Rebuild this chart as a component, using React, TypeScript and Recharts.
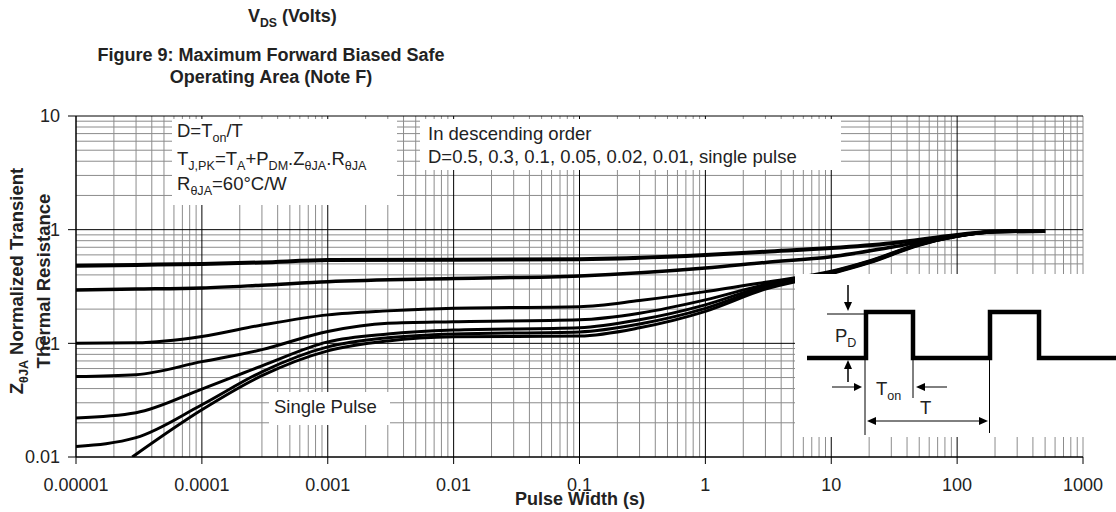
import { LineChart, Line, XAxis, YAxis, CartesianGrid } from "recharts"

// axis ticks (decades) and their printed labels
const xTicks = [1e-5, 1e-4, 1e-3, 1e-2, 1e-1, 1, 10, 100, 1000]
const xTickLabels = ["0.00001", "0.0001", "0.001", "0.01", "0.1", "1", "10", "100", "1000"]
const yTicks = [0.01, 0.1, 1, 10]
const yTickLabels = ["0.01", "0.1", "1", "10"]
const minorSteps = [2, 3, 4, 5, 6, 7, 8, 9]

// pulse width (s) and normalized Z for each duty cycle
const tD05 = [1e-5, 3e-5, 1e-4, 3e-4, 1e-3, 1e-2, 0.1, 1, 3, 10, 30, 100, 200, 500]
const zD05 = [0.482, 0.49, 0.499, 0.515, 0.54, 0.545, 0.55, 0.598, 0.64, 0.689, 0.76, 0.898, 0.965, 0.975]

const tD03 = [1e-5, 3e-5, 1e-4, 3e-4, 1e-3, 1e-2, 0.1, 1, 3, 10, 30, 100, 200, 500]
const zD03 = [0.295, 0.3, 0.307, 0.325, 0.349, 0.372, 0.392, 0.46, 0.515, 0.578, 0.7, 0.89, 0.96, 0.97]

const tLow = [1e-5, 3e-5, 1e-4, 3e-4, 1e-3, 3e-3, 1e-2, 0.1, 0.3, 1, 3, 10, 20, 50, 100, 200, 500]
const zD01 = [0.1, 0.101, 0.115, 0.145, 0.178, 0.193, 0.204, 0.21, 0.238, 0.285, 0.345, 0.43, 0.53, 0.75, 0.88, 0.965, 0.97]
const zD005 = [0.0511, 0.053, 0.069, 0.088, 0.127, 0.15, 0.155, 0.161, 0.184, 0.241, 0.33, 0.425, 0.525, 0.745, 0.878, 0.963, 0.97]
const zD002 = [0.022, 0.0245, 0.0396, 0.0634, 0.103, 0.121, 0.131, 0.137, 0.161, 0.218, 0.32, 0.42, 0.52, 0.74, 0.876, 0.962, 0.97]
const zD001 = [0.0124, 0.0148, 0.0288, 0.0562, 0.093, 0.112, 0.121, 0.126, 0.148, 0.203, 0.31, 0.415, 0.515, 0.735, 0.875, 0.96, 0.97]

const tSingle = [2.8e-5, 1e-4, 3e-4, 1e-3, 3e-3, 1e-2, 0.1, 0.3, 1, 3, 10, 20, 50, 100, 200, 500]
const zSingle = [0.01, 0.026, 0.0519, 0.0859, 0.105, 0.114, 0.116, 0.137, 0.191, 0.3, 0.41, 0.51, 0.73, 0.873, 0.958, 0.97]

const pts = (t: number[], z: number[]) => t.map((x, i) => ({ t: x, z: z[i] }))

const series = [
	{ name: "D=0.5", data: pts(tD05, zD05), w: 4 },
	{ name: "D=0.3", data: pts(tD03, zD03), w: 3.5 },
	{ name: "D=0.1", data: pts(tLow, zD01), w: 3 },
	{ name: "D=0.05", data: pts(tLow, zD005), w: 3 },
	{ name: "D=0.02", data: pts(tLow, zD002), w: 3 },
	{ name: "D=0.01", data: pts(tLow, zD001), w: 3 },
	{ name: "single pulse", data: pts(tSingle, zSingle), w: 3 },
]

const xMinor = [
	...xTicks.slice(0, -1).flatMap((d) => minorSteps.map((m) => m * d)),
	1000,
]
const yMinor = yTicks.slice(0, -1).flatMap((d) => minorSteps.map((m) => m * d))
const xMajor = xTicks.slice(0, -1)

const labelOf = (ticks: number[], labels: string[]) => (v: number) => {
	const i = ticks.findIndex((t) => Math.abs(Math.log10(t) - Math.log10(v)) < 1e-6)
	return i >= 0 ? labels[i] : ""
}

const INK = "#222"

// text with "_"-prefixed parts drawn as subscripts
const Rich = ({
	x = 0,
	y = 0,
	parts,
	size = 18.5,
	bold = false,
	anchor = "start",
	transform,
}: {
	x?: number
	y?: number
	parts: string[]
	size?: number
	bold?: boolean
	anchor?: string
	transform?: string
}) => {
	let down = false
	const shift = size * 0.25
	return (
		<text
			x={x}
			y={y}
			fontSize={size}
			fontWeight={bold ? "bold" : "normal"}
			textAnchor={anchor}
			transform={transform}
			fill={INK}
			style={{ whiteSpace: "pre" }}
		>
			{parts.map((p, i) => {
				const sub = p.startsWith("_")
				let dy = 0
				if (sub && !down) {
					dy = shift
					down = true
				} else if (!sub && down) {
					dy = -shift
					down = false
				}
				return (
					<tspan key={i} dy={dy} fontSize={sub ? size * 0.68 : size}>
						{sub ? p.slice(1) : p}
					</tspan>
				)
			})}
		</text>
	)
}

const Inset = () => (
	<g>
		<rect x={795} y={274} width={321} height={163} fill="#fff" />
		<polyline
			points="807,358 866,358 866,312 913,312 913,358 990,358 990,312 1039,312 1039,358 1116,358"
			fill="none"
			stroke="#000"
			strokeWidth={4.5}
		/>
		<line x1={827} y1={314} x2={866} y2={314} stroke="#000" strokeWidth={1} />
		<line x1={848} y1={285} x2={848} y2={303} stroke="#000" strokeWidth={1.5} />
		<polygon points="844,302 852,302 848,311" fill="#000" />
		<line x1={848} y1={368} x2={848} y2={382} stroke="#000" strokeWidth={1.5} />
		<polygon points="844,369 852,369 848,360" fill="#000" />
		<line x1={865} y1={358} x2={865} y2={435} stroke="#000" strokeWidth={1} />
		<line x1={913} y1={358} x2={913} y2={398} stroke="#000" strokeWidth={1} />
		<line x1={989.5} y1={358} x2={989.5} y2={433} stroke="#000" strokeWidth={1} />
		<line x1={832} y1={387} x2={855} y2={387} stroke="#000" strokeWidth={1} />
		<polygon points="854,383 854,391 862,387" fill="#000" />
		<line x1={924} y1={387} x2={947} y2={387} stroke="#000" strokeWidth={1} />
		<polygon points="925,383 925,391 916,387" fill="#000" />
		<line x1={875} y1={421} x2={980} y2={421} stroke="#000" strokeWidth={1} />
		<polygon points="876,417 876,425 867,421" fill="#000" />
		<polygon points="979,417 979,425 988,421" fill="#000" />
		<Rich x={835} y={342} parts={["P", "_D"]} />
		<Rich x={876} y={395} parts={["T", "_on"]} />
		<Rich x={920} y={414} parts={["T"]} />
	</g>
)

export default function App() {
	return (
		<div
			style={{
				position: "absolute",
				left: 0,
				top: 0,
				width: 1116,
				height: 512,
				background: "#fff",
				fontFamily: '"Liberation Sans", Arial, sans-serif',
			}}
		>
			<LineChart width={1116} height={512} margin={{ top: 116, right: 33, bottom: 15, left: 16 }}>
				<CartesianGrid stroke="#8c8c8c" strokeWidth={1} verticalValues={xMinor} horizontalValues={yMinor} />
				<CartesianGrid stroke="#000" strokeWidth={1} verticalValues={xMajor} horizontalValues={yTicks} />
				<XAxis
					dataKey="t"
					type="number"
					scale="log"
					domain={[1e-5, 1000]}
					allowDataOverflow
					ticks={xTicks}
					interval={0}
					tickFormatter={labelOf(xTicks, xTickLabels)}
					height={40}
					tickSize={7}
					tickMargin={14}
					axisLine={{ stroke: "#000" }}
					tickLine={{ stroke: "#000" }}
					tick={{ fontSize: 18, fill: INK }}
				/>
				<YAxis
					type="number"
					scale="log"
					domain={[0.01, 10]}
					allowDataOverflow
					ticks={yTicks}
					interval={0}
					tickFormatter={labelOf(yTicks, yTickLabels)}
					width={60}
					tickSize={8}
					tickMargin={8}
					axisLine={{ stroke: "#000" }}
					tickLine={{ stroke: "#000" }}
					tick={{ fontSize: 18, fill: INK }}
				/>
				{series.map((s) => (
					<Line
						key={s.name}
						name={s.name}
						data={s.data}
						dataKey="z"
						type="monotone"
						stroke="#000"
						strokeWidth={s.w}
						dot={false}
						activeDot={false}
						isAnimationActive={false}
					/>
				))}
			</LineChart>
			<svg
				width={1116}
				height={512}
				style={{ position: "absolute", left: 0, top: 0, pointerEvents: "none" }}
			>
				<Rich x={248} y={22} size={18} bold parts={["V", "_DS", " (Volts)"]} />
				<Rich x={271} y={61} size={18} bold anchor="middle" parts={["Figure 9: Maximum Forward Biased Safe"]} />
				<Rich x={271} y={83} size={18} bold anchor="middle" parts={["Operating Area (Note F)"]} />

				<rect x={172} y={119} width={225} height={86} fill="#fff" />
				<Rich x={177} y={137} parts={["D=T", "_on", "/T"]} />
				<Rich x={177} y={165} parts={["T", "_J,PK", "=T", "_A", "+P", "_DM", ".Z", "_θJA", ".R", "_θJA"]} />
				<Rich x={177} y={190} parts={["R", "_θJA", "=60°C/W"]} />

				<rect x={420} y={119} width={421} height={51} fill="#fff" />
				<Rich x={428} y={140} parts={["In descending order"]} />
				<Rich x={428} y={163} parts={["D=0.5, 0.3, 0.1, 0.05, 0.02, 0.01, single pulse"]} />

				<rect x={269} y={392} width={121} height={33} fill="#fff" />
				<Rich x={274} y={413} parts={["Single Pulse"]} />

				<Inset />

				<Rich transform="translate(23,281) rotate(-90)" anchor="middle" bold parts={["Z", "_θJA", " Normalized Transient"]} />
				<Rich transform="translate(50,281) rotate(-90)" anchor="middle" bold parts={["Thermal Resistance"]} />
				<Rich x={580} y={505} size={18} bold anchor="middle" parts={["Pulse Width (s)"]} />
			</svg>
		</div>
	)
}
